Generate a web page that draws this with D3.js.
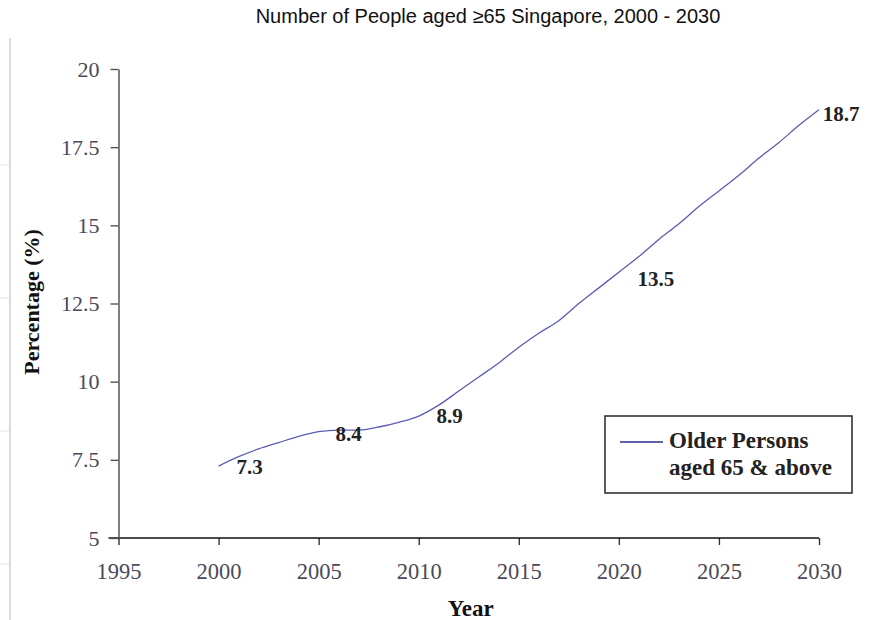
<!DOCTYPE html>
<html>
<head>
<meta charset="utf-8">
<script src="https://cdn.jsdelivr.net/npm/d3@7"></script>
<style>
	body { margin: 0; background: #fff; }
	.tick text { font-family: "Liberation Serif", "Times New Roman", serif; }
</style>
</head>
<body>
<div id="chart-area"></div>
<script>

// chart data
let years = [2000, 2001, 2002, 2003, 2004, 2005, 2006, 2007, 2008, 2009, 2010,
	2011, 2012, 2013, 2014, 2015, 2016, 2017, 2018, 2019, 2020,
	2021, 2022, 2023, 2024, 2025, 2026, 2027, 2028, 2029, 2030];
let percent = [7.3, 7.6, 7.85, 8.05, 8.25, 8.4, 8.45, 8.45, 8.55, 8.7, 8.9,
	9.25, 9.7, 10.15, 10.6, 11.1, 11.55, 11.95, 12.5, 13.0, 13.5,
	14.0, 14.55, 15.05, 15.6, 16.1, 16.6, 17.15, 17.65, 18.2, 18.7];

// years that get a value label
let labelYears = [2000, 2005, 2010, 2020, 2030];

let xTicks = [1995, 2000, 2005, 2010, 2015, 2020, 2025, 2030];
let yTicks = [5, 7.5, 10, 12.5, 15, 17.5, 20];

let titleText = "Number of People aged \u226565 Singapore, 2000 - 2030";
let legendLines = ["Older Persons", "aged 65 & above"];

let data = years.map((y, i) => ({year: y, value: percent[i]}));

// margin conventions
let margin = {top: 69, right: 64, bottom: 82, left: 118.5};
let width = 883 - margin.left - margin.right;
let height = 620 - margin.top - margin.bottom;

let root = d3.select("#chart-area").append("svg")
	.attr("width", 883)
	.attr("height", 620);

// leftover frame of a neighbouring chart on the left edge
root.append("line")
	.attr("x1", 10).attr("x2", 10)
	.attr("y1", 38).attr("y2", 620)
	.attr("stroke", "#cfcfcf").attr("stroke-width", 1.5);
[165, 298, 431, 564].forEach(y => {
	root.append("line")
		.attr("x1", 0).attr("x2", 9)
		.attr("y1", y).attr("y2", y)
		.attr("stroke", "#e2e2e2");
});

root.append("text")
	.attr("x", 488)
	.attr("y", 23)
	.attr("text-anchor", "middle")
	.style("font-family", "'Liberation Sans', Arial, sans-serif")
	.style("font-size", "20px")
	.attr("fill", "#111")
	.text(titleText);

let svg = root.append("g")
	.attr("transform", "translate(" + margin.left + "," + margin.top + ")");

let xscale = d3.scaleLinear().domain([1995, 2030]).range([0, width]);
let yscale = d3.scaleLinear().domain([5, 20]).range([height, 0]);

// Axes
let xAxis = d3.axisBottom(xscale)
	.tickValues(xTicks)
	.tickSize(7)
	.tickSizeOuter(0)
	.tickFormat(d => d);

let yAxis = d3.axisLeft(yscale)
	.tickValues(yTicks)
	.tickSize(8)
	.tickSizeOuter(0)
	.tickFormat(d => String(d));

let xAxisGroup = svg.append("g")
	.attr("class", "axis x-axis")
	.attr("transform", "translate(0," + height + ")")
	.call(xAxis);

let yAxisGroup = svg.append("g")
	.attr("class", "axis y-axis")
	.call(yAxis);

xAxisGroup.select(".domain").remove();
yAxisGroup.select(".domain").attr("stroke", "#555").attr("stroke-width", 1.5);

// x axis line runs a little past the y axis
xAxisGroup.append("line")
	.attr("x1", -10).attr("x2", width)
	.attr("stroke", "#111").attr("stroke-width", 1.6);

xAxisGroup.selectAll(".tick line").attr("stroke", "#333").attr("stroke-width", 1.4);
yAxisGroup.selectAll(".tick line").attr("stroke", "#555").attr("stroke-width", 1.4);

xAxisGroup.selectAll(".tick text")
	.attr("y", 25)
	.attr("dy", "0.71em")
	.style("font-size", "22.5px")
	.attr("fill", "#4a4a5a");

yAxisGroup.selectAll(".tick text")
	.attr("x", -19)
	.style("font-size", "22px")
	.attr("fill", "#4a4a5a");

// axis titles
svg.append("text")
	.attr("transform", "rotate(-90)")
	.attr("x", -(yscale(12.55)))
	.attr("y", -80)
	.attr("text-anchor", "middle")
	.style("font-family", "'Liberation Serif', serif")
	.style("font-weight", "bold")
	.style("font-size", "22px")
	.attr("fill", "#111")
	.text("Percentage (%)");

svg.append("text")
	.attr("x", xscale(2012.6))
	.attr("y", height + 78)
	.attr("text-anchor", "middle")
	.style("font-family", "'Liberation Serif', serif")
	.style("font-weight", "bold")
	.style("font-size", "23px")
	.attr("fill", "#111")
	.text("Year");

// the series line
svg.append("path")
	.datum(data)
	.attr("fill", "none")
	.attr("stroke", "#5c5cb4")
	.attr("stroke-width", 1.3)
	.attr("d", d3.line()
		.x(d => xscale(d.year))
		.y(d => yscale(d.value))
		.curve(d3.curveMonotoneX));

// value labels, offsets picked to sit where the original puts them
let labelOffset = {2000: [31, 8], 2005: [30, 9], 2010: [31, 7], 2020: [37, 14], 2030: [22, 11]};
svg.selectAll(".value-label")
	.data(data.filter(d => labelYears.includes(d.year)))
	.enter()
	.append("text")
	.attr("class", "value-label")
	.attr("x", d => xscale(d.year) + labelOffset[d.year][0])
	.attr("y", d => yscale(d.value) + labelOffset[d.year][1])
	.attr("text-anchor", "middle")
	.style("font-family", "'Liberation Serif', serif")
	.style("font-weight", "bold")
	.style("font-size", "21px")
	.attr("fill", "#222")
	.text(d => d.value);

// legend box
let legend = root.append("g").attr("transform", "translate(605,416)");
legend.append("rect")
	.attr("width", 247).attr("height", 77)
	.attr("fill", "#fff")
	.attr("stroke", "#333").attr("stroke-width", 1.6);
legend.append("line")
	.attr("x1", 15).attr("x2", 58)
	.attr("y1", 26).attr("y2", 26)
	.attr("stroke", "#2c2c90").attr("stroke-width", 1.6);
legend.selectAll(".legend-text")
	.data(legendLines)
	.enter()
	.append("text")
	.attr("class", "legend-text")
	.attr("x", 64)
	.attr("y", (d, i) => 32 + i * 27)
	.style("font-family", "'Liberation Serif', serif")
	.style("font-weight", "bold")
	.style("font-size", "23px")
	.attr("fill", "#222")
	.text(d => d);

</script>
</body>
</html>
